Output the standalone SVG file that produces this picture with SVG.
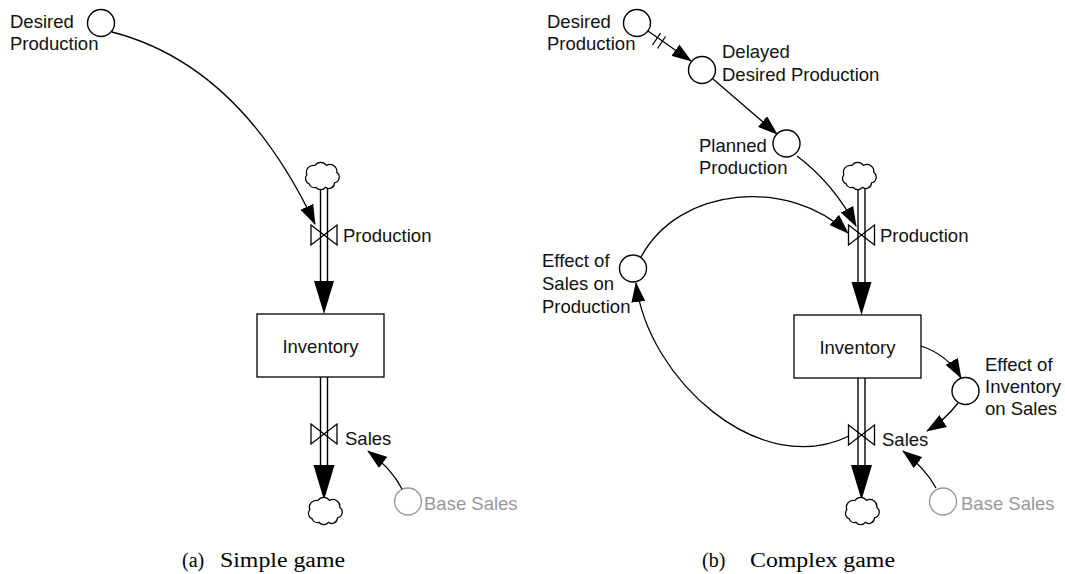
<svg xmlns="http://www.w3.org/2000/svg" width="1065" height="574" viewBox="0 0 1065 574">
<style>
text{font-family:"Liberation Sans",Arial,sans-serif;font-size:18.5px;fill:#111}
.cap{font-family:"Liberation Serif","Times New Roman",serif;font-size:20px;fill:#000}
.aux{fill:#fff;stroke:#000;stroke-width:1.4}
.gray{fill:#fff;stroke:#999;stroke-width:1.4}
.gt{fill:#999}
.stock{fill:#fff;stroke:#000;stroke-width:1.3}
.pipe{stroke:#000;stroke-width:1.4;fill:none}
.valve{fill:none;stroke:#000;stroke-width:1.3}
.fh{fill:#000}
.cloud{fill:#fff;stroke:#000;stroke-width:1.1}
.link{fill:none;stroke:#000;stroke-width:1.3;marker-end:url(#ah)}
.dm{stroke:#000;stroke-width:1.3}
</style>
<defs>
<marker id="ah" viewBox="0 0 20 14" refX="19" refY="7" markerWidth="20" markerHeight="14" markerUnits="userSpaceOnUse" orient="auto">
<path d="M0,0 L20,7 L0,14 z" fill="#000"/>
</marker>
<path id="cl" d="M-12,6 a5,5 0 0 1 -2,-8 a6,6 0 0 1 7,-8 a6,6 0 0 1 10,0 a6,6 0 0 1 9,6 a5,5 0 0 1 -2,9 a5,5 0 0 1 -8,4 a5,5 0 0 1 -8,0 a5,5 0 0 1 -6,-3 z"/>
</defs>

<!-- ========== (a) Simple game ========== -->
<g id="a-flows">
<line class="pipe" x1="320.5" y1="188" x2="320.5" y2="282"/>
<line class="pipe" x1="327.5" y1="188" x2="327.5" y2="282"/>
<polygon class="fh" points="314,281 334,281 324,314"/>
<line class="pipe" x1="320.5" y1="377" x2="320.5" y2="466"/>
<line class="pipe" x1="327.5" y1="377" x2="327.5" y2="466"/>
<polygon class="fh" points="313.5,465 334.5,465 324,500"/>
</g>
<g id="a-cloud-top"><use href="#cl" class="cloud" transform="translate(323,177) scale(1.15)"/></g>
<g id="a-cloud-bottom"><use href="#cl" class="cloud" transform="translate(326,512) scale(1.15)"/></g>
<g id="a-production">
<path class="valve" d="M311,225 L337,245 L337,225 L311,245 Z"/>
<text x="343" y="242">Production</text>
</g>
<g id="a-sales">
<path class="valve" d="M311,424 L337,444 L337,424 L311,444 Z"/>
<text x="345" y="445">Sales</text>
</g>
<g id="a-inventory">
<rect class="stock" x="257" y="314" width="127" height="63"/>
<text x="320.5" y="353" text-anchor="middle">Inventory</text>
</g>
<g id="a-desired">
<circle class="aux" cx="101" cy="23" r="13.5"/>
<text x="10" y="28">Desired</text>
<text x="10" y="50">Production</text>
</g>
<g id="a-basesales">
<circle class="gray" cx="408" cy="501.5" r="13.5"/>
<text class="gt" x="424" y="510">Base Sales</text>
</g>
<g id="a-connectors">
<path class="link" d="M112,32 Q240,65 315,224"/>
<path class="link" d="M402,489 Q392,469 368,451"/>
</g>

<!-- ========== (b) Complex game ========== -->
<g id="b-flows">
<line class="pipe" x1="858" y1="188" x2="858" y2="283"/>
<line class="pipe" x1="865" y1="188" x2="865" y2="283"/>
<polygon class="fh" points="851.5,282 871.5,282 861.5,315"/>
<line class="pipe" x1="858" y1="378" x2="858" y2="466"/>
<line class="pipe" x1="865" y1="378" x2="865" y2="466"/>
<polygon class="fh" points="851,465 872,465 861.5,500"/>
</g>
<g id="b-cloud-top"><use href="#cl" class="cloud" transform="translate(860,177) scale(1.15)"/></g>
<g id="b-cloud-bottom"><use href="#cl" class="cloud" transform="translate(863,512) scale(1.15)"/></g>
<g id="b-production">
<path class="valve" d="M848.5,225 L874.5,245 L874.5,225 L848.5,245 Z"/>
<text x="880" y="242">Production</text>
</g>
<g id="b-sales">
<path class="valve" d="M848.5,425 L874.5,445 L874.5,425 L848.5,445 Z"/>
<text x="882" y="446">Sales</text>
</g>
<g id="b-inventory">
<rect class="stock" x="794" y="315" width="127" height="63"/>
<text x="857.5" y="354" text-anchor="middle">Inventory</text>
</g>
<g id="b-desired">
<circle class="aux" cx="637" cy="23" r="13.5"/>
<text x="547" y="28">Desired</text>
<text x="547" y="50">Production</text>
</g>
<g id="b-delayed">
<circle class="aux" cx="702" cy="70" r="13.5"/>
<text x="722" y="58">Delayed</text>
<text x="722" y="81">Desired Production</text>
</g>
<g id="b-planned">
<circle class="aux" cx="786.5" cy="143.5" r="13.5"/>
<text x="699" y="152">Planned</text>
<text x="699" y="174">Production</text>
</g>
<g id="b-effect-sales">
<circle class="aux" cx="633" cy="268.5" r="13.5"/>
<text x="542" y="267">Effect of</text>
<text x="542" y="290">Sales on</text>
<text x="542" y="313">Production</text>
</g>
<g id="b-effect-inventory">
<circle class="aux" cx="965.5" cy="391" r="13.5"/>
<text x="985" y="371">Effect of</text>
<text x="985" y="393">Inventory</text>
<text x="985" y="415">on Sales</text>
</g>
<g id="b-basesales">
<circle class="gray" cx="943" cy="501.5" r="13.5"/>
<text class="gt" x="961" y="510">Base Sales</text>
</g>
<g id="b-connectors">
<path class="link" d="M648,31 L691,61"/>
<line class="dm" x1="652.5" y1="45" x2="660.5" y2="33"/>
<line class="dm" x1="657.5" y1="48.5" x2="665.5" y2="36.5"/>
<path class="link" d="M713,79 L777,134"/>
<path class="link" d="M797,156 Q833,183 856,226"/>
<path class="link" d="M641,257 C680,185 790,178 848,233"/>
<path class="link" d="M849,436 C760,480 648,380 636,283"/>
<path class="link" d="M921,346 Q948,355 961,378"/>
<path class="link" d="M958,403 Q945,420 927,431"/>
<path class="link" d="M936,488 Q925,468 903,451"/>
</g>

<g id="captions">
<text class="cap" x="182" y="567">(a)</text>
<text class="cap" x="220" y="567" textLength="125" lengthAdjust="spacingAndGlyphs">Simple game</text>
<text class="cap" x="702" y="567">(b)</text>
<text class="cap" x="750" y="567" textLength="145" lengthAdjust="spacingAndGlyphs">Complex game</text>
</g>
</svg>
